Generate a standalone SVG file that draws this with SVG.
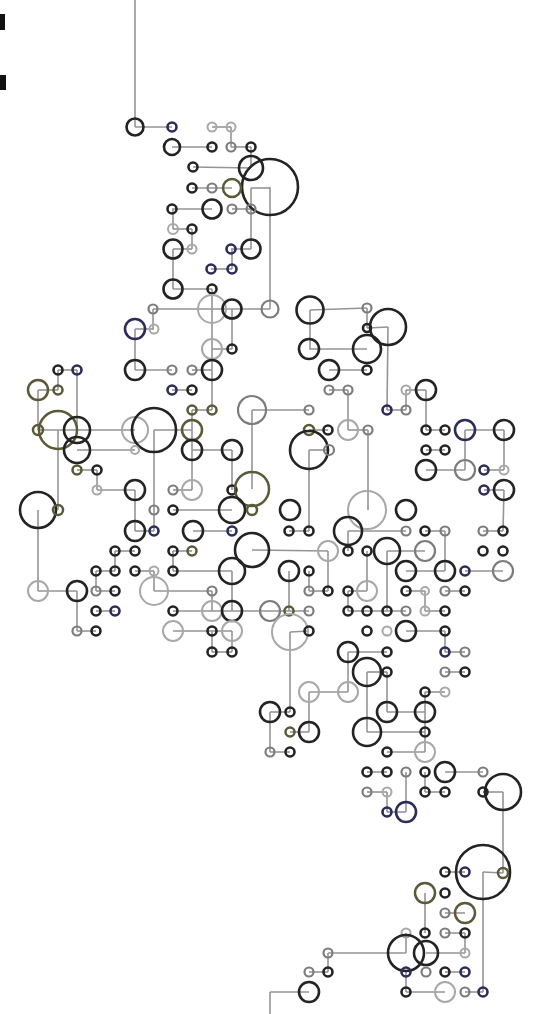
<svg xmlns="http://www.w3.org/2000/svg" width="539" height="1014" viewBox="0 0 539 1014">
<style>
circle{fill:none}
.d{stroke:#232323;stroke-width:2.6}
.n{stroke:#2c2c58;stroke-width:2.6}
.o{stroke:#5a5a38;stroke-width:2.5}
.g{stroke:#7c7c7c;stroke-width:2.2}
.l{stroke:#a8a8a8;stroke-width:2}
.c line{stroke:#959595;stroke-width:1.6}
</style>
<rect width="539" height="1014" fill="#ffffff"/>
<g id="marks" fill="#111">
<rect x="0" y="14" width="5" height="16"/>
<rect x="0" y="75" width="6" height="15"/>
</g>
<g id="connectors" class="c">
<line x1="135" y1="0" x2="135" y2="127"/>
<line x1="135" y1="127" x2="172" y2="127"/>
<line x1="212" y1="127" x2="231" y2="127"/>
<line x1="231" y1="127" x2="231" y2="147"/>
<line x1="172" y1="147" x2="212" y2="147"/>
<line x1="231" y1="147" x2="251" y2="147"/>
<line x1="251" y1="147" x2="251" y2="168"/>
<line x1="193" y1="167" x2="251" y2="168"/>
<line x1="192" y1="188" x2="232" y2="188"/>
<line x1="251" y1="188" x2="270" y2="188"/>
<line x1="251" y1="188" x2="251" y2="209"/>
<line x1="270" y1="187" x2="270" y2="309"/>
<line x1="172" y1="209" x2="212" y2="209"/>
<line x1="232" y1="209" x2="251" y2="209"/>
<line x1="173" y1="209" x2="173" y2="229"/>
<line x1="173" y1="229" x2="192" y2="229"/>
<line x1="192" y1="229" x2="192" y2="249"/>
<line x1="173" y1="249" x2="192" y2="249"/>
<line x1="231" y1="249" x2="251" y2="249"/>
<line x1="251" y1="209" x2="251" y2="249"/>
<line x1="173" y1="249" x2="173" y2="289"/>
<line x1="211" y1="269" x2="232" y2="269"/>
<line x1="232" y1="249" x2="232" y2="269"/>
<line x1="173" y1="289" x2="212" y2="289"/>
<line x1="212" y1="289" x2="212" y2="309"/>
<line x1="153" y1="309" x2="270" y2="309"/>
<line x1="153" y1="309" x2="153" y2="329"/>
<line x1="135" y1="329" x2="154" y2="329"/>
<line x1="212" y1="309" x2="212" y2="410"/>
<line x1="232" y1="309" x2="232" y2="349"/>
<line x1="135" y1="329" x2="135" y2="370"/>
<line x1="212" y1="349" x2="232" y2="349"/>
<line x1="135" y1="370" x2="172" y2="370"/>
<line x1="192" y1="370" x2="212" y2="370"/>
<line x1="58" y1="370" x2="77" y2="370"/>
<line x1="58" y1="370" x2="58" y2="390"/>
<line x1="77" y1="370" x2="77" y2="430"/>
<line x1="38" y1="390" x2="58" y2="390"/>
<line x1="38" y1="390" x2="38" y2="430"/>
<line x1="172" y1="390" x2="192" y2="390"/>
<line x1="192" y1="410" x2="212" y2="410"/>
<line x1="192" y1="410" x2="192" y2="490"/>
<line x1="38" y1="430" x2="135" y2="430"/>
<line x1="154" y1="430" x2="192" y2="430"/>
<line x1="154" y1="430" x2="154" y2="531"/>
<line x1="58" y1="430" x2="58" y2="510"/>
<line x1="77" y1="450" x2="135" y2="450"/>
<line x1="192" y1="450" x2="232" y2="450"/>
<line x1="232" y1="450" x2="232" y2="490"/>
<line x1="77" y1="470" x2="97" y2="470"/>
<line x1="97" y1="470" x2="97" y2="490"/>
<line x1="97" y1="490" x2="135" y2="490"/>
<line x1="135" y1="490" x2="135" y2="531"/>
<line x1="173" y1="490" x2="192" y2="490"/>
<line x1="252" y1="410" x2="252" y2="489"/>
<line x1="252" y1="410" x2="309" y2="410"/>
<line x1="310" y1="310" x2="367" y2="308"/>
<line x1="367" y1="308" x2="367" y2="328"/>
<line x1="367" y1="328" x2="388" y2="327"/>
<line x1="310" y1="310" x2="310" y2="349"/>
<line x1="309" y1="349" x2="367" y2="349"/>
<line x1="388" y1="327" x2="387" y2="410"/>
<line x1="329" y1="370" x2="367" y2="370"/>
<line x1="329" y1="390" x2="348" y2="390"/>
<line x1="348" y1="390" x2="348" y2="430"/>
<line x1="387" y1="410" x2="406" y2="410"/>
<line x1="406" y1="390" x2="406" y2="410"/>
<line x1="406" y1="390" x2="426" y2="390"/>
<line x1="426" y1="390" x2="426" y2="430"/>
<line x1="309" y1="430" x2="328" y2="430"/>
<line x1="348" y1="430" x2="368" y2="430"/>
<line x1="368" y1="430" x2="368" y2="510"/>
<line x1="309" y1="450" x2="329" y2="450"/>
<line x1="309" y1="450" x2="309" y2="531"/>
<line x1="426" y1="430" x2="445" y2="430"/>
<line x1="465" y1="430" x2="504" y2="430"/>
<line x1="465" y1="430" x2="465" y2="470"/>
<line x1="504" y1="430" x2="504" y2="470"/>
<line x1="426" y1="450" x2="445" y2="450"/>
<line x1="426" y1="470" x2="465" y2="470"/>
<line x1="484" y1="470" x2="504" y2="470"/>
<line x1="484" y1="490" x2="504" y2="490"/>
<line x1="504" y1="490" x2="503" y2="531"/>
<line x1="38" y1="510" x2="38" y2="591"/>
<line x1="38" y1="591" x2="77" y2="591"/>
<line x1="77" y1="591" x2="77" y2="631"/>
<line x1="77" y1="631" x2="96" y2="631"/>
<line x1="135" y1="531" x2="154" y2="531"/>
<line x1="193" y1="531" x2="232" y2="531"/>
<line x1="173" y1="510" x2="232" y2="510"/>
<line x1="115" y1="551" x2="135" y2="551"/>
<line x1="115" y1="551" x2="115" y2="571"/>
<line x1="173" y1="551" x2="192" y2="551"/>
<line x1="173" y1="551" x2="173" y2="571"/>
<line x1="96" y1="571" x2="115" y2="571"/>
<line x1="135" y1="571" x2="154" y2="571"/>
<line x1="154" y1="571" x2="154" y2="591"/>
<line x1="96" y1="571" x2="96" y2="591"/>
<line x1="96" y1="591" x2="115" y2="591"/>
<line x1="173" y1="571" x2="232" y2="571"/>
<line x1="154" y1="591" x2="212" y2="591"/>
<line x1="212" y1="591" x2="212" y2="611"/>
<line x1="232" y1="571" x2="232" y2="611"/>
<line x1="96" y1="611" x2="115" y2="611"/>
<line x1="173" y1="611" x2="309" y2="611"/>
<line x1="173" y1="631" x2="232" y2="631"/>
<line x1="212" y1="631" x2="212" y2="652"/>
<line x1="232" y1="631" x2="232" y2="652"/>
<line x1="212" y1="652" x2="232" y2="652"/>
<line x1="252" y1="550" x2="328" y2="551"/>
<line x1="289" y1="531" x2="309" y2="531"/>
<line x1="348" y1="531" x2="406" y2="531"/>
<line x1="425" y1="531" x2="445" y2="531"/>
<line x1="483" y1="531" x2="503" y2="531"/>
<line x1="445" y1="531" x2="445" y2="571"/>
<line x1="348" y1="531" x2="348" y2="551"/>
<line x1="328" y1="551" x2="328" y2="591"/>
<line x1="367" y1="551" x2="367" y2="591"/>
<line x1="387" y1="551" x2="425" y2="551"/>
<line x1="387" y1="551" x2="387" y2="611"/>
<line x1="289" y1="571" x2="289" y2="611"/>
<line x1="309" y1="571" x2="309" y2="591"/>
<line x1="309" y1="591" x2="328" y2="591"/>
<line x1="348" y1="591" x2="367" y2="591"/>
<line x1="348" y1="591" x2="348" y2="611"/>
<line x1="406" y1="571" x2="445" y2="571"/>
<line x1="465" y1="571" x2="503" y2="571"/>
<line x1="406" y1="591" x2="425" y2="591"/>
<line x1="445" y1="591" x2="465" y2="591"/>
<line x1="425" y1="591" x2="425" y2="611"/>
<line x1="348" y1="611" x2="406" y2="611"/>
<line x1="425" y1="611" x2="445" y2="611"/>
<line x1="290" y1="632" x2="309" y2="631"/>
<line x1="290" y1="632" x2="290" y2="712"/>
<line x1="406" y1="631" x2="445" y2="631"/>
<line x1="445" y1="631" x2="445" y2="652"/>
<line x1="348" y1="652" x2="387" y2="652"/>
<line x1="348" y1="652" x2="348" y2="692"/>
<line x1="445" y1="652" x2="465" y2="652"/>
<line x1="367" y1="672" x2="387" y2="672"/>
<line x1="445" y1="672" x2="465" y2="672"/>
<line x1="309" y1="692" x2="348" y2="692"/>
<line x1="309" y1="692" x2="309" y2="732"/>
<line x1="367" y1="672" x2="367" y2="732"/>
<line x1="387" y1="672" x2="387" y2="712"/>
<line x1="425" y1="692" x2="445" y2="692"/>
<line x1="425" y1="692" x2="425" y2="752"/>
<line x1="270" y1="712" x2="290" y2="712"/>
<line x1="387" y1="712" x2="425" y2="712"/>
<line x1="290" y1="732" x2="309" y2="732"/>
<line x1="367" y1="732" x2="425" y2="732"/>
<line x1="270" y1="712" x2="270" y2="752"/>
<line x1="270" y1="752" x2="290" y2="752"/>
<line x1="387" y1="752" x2="425" y2="752"/>
<line x1="367" y1="772" x2="387" y2="772"/>
<line x1="406" y1="772" x2="406" y2="812"/>
<line x1="425" y1="772" x2="425" y2="792"/>
<line x1="445" y1="772" x2="483" y2="772"/>
<line x1="367" y1="792" x2="387" y2="792"/>
<line x1="387" y1="792" x2="387" y2="812"/>
<line x1="425" y1="792" x2="445" y2="792"/>
<line x1="483" y1="792" x2="503" y2="792"/>
<line x1="503" y1="792" x2="503" y2="873"/>
<line x1="387" y1="812" x2="406" y2="812"/>
<line x1="483" y1="872" x2="503" y2="873"/>
<line x1="483" y1="872" x2="483" y2="992"/>
<line x1="445" y1="872" x2="465" y2="872"/>
<line x1="425" y1="893" x2="425" y2="933"/>
<line x1="445" y1="913" x2="465" y2="913"/>
<line x1="445" y1="933" x2="465" y2="933"/>
<line x1="465" y1="933" x2="465" y2="953"/>
<line x1="328" y1="953" x2="406" y2="953"/>
<line x1="406" y1="933" x2="406" y2="953"/>
<line x1="426" y1="953" x2="465" y2="953"/>
<line x1="328" y1="953" x2="328" y2="972"/>
<line x1="309" y1="972" x2="328" y2="972"/>
<line x1="406" y1="972" x2="406" y2="992"/>
<line x1="445" y1="972" x2="465" y2="972"/>
<line x1="270" y1="992" x2="309" y2="992"/>
<line x1="270" y1="992" x2="270" y2="1014"/>
<line x1="406" y1="992" x2="445" y2="992"/>
<line x1="465" y1="992" x2="483" y2="992"/>
</g>
<g id="nodes">
<g id="n1"><circle class="d" cx="135" cy="127" r="8.5"/></g>
<g id="n2"><circle class="n" cx="172" cy="127" r="4.5"/></g>
<g id="n3"><circle class="l" cx="212" cy="127" r="4.5"/></g>
<g id="n4"><circle class="l" cx="231" cy="127" r="4.5"/></g>
<g id="n5"><circle class="d" cx="172" cy="147" r="8"/></g>
<g id="n6"><circle class="d" cx="212" cy="147" r="4.5"/></g>
<g id="n7"><circle class="g" cx="231" cy="147" r="4.5"/></g>
<g id="n8"><circle class="d" cx="251" cy="147" r="4.5"/></g>
<g id="n9"><circle class="d" cx="193" cy="167" r="4.5"/></g>
<g id="n10"><circle class="d" cx="251" cy="168" r="12"/></g>
<g id="n11"><circle class="d" cx="270" cy="187" r="28"/></g>
<g id="n12"><circle class="d" cx="192" cy="188" r="4.5"/></g>
<g id="n13"><circle class="g" cx="212" cy="188" r="4.5"/></g>
<g id="n14"><circle class="o" cx="232" cy="188" r="9"/></g>
<g id="n15"><circle class="d" cx="172" cy="209" r="4.5"/></g>
<g id="n16"><circle class="d" cx="212" cy="209" r="9.5"/></g>
<g id="n17"><circle class="g" cx="232" cy="209" r="4.5"/></g>
<g id="n18"><circle class="g" cx="251" cy="209" r="4.5"/></g>
<g id="n19"><circle class="l" cx="173" cy="229" r="5"/></g>
<g id="n20"><circle class="d" cx="192" cy="229" r="4.5"/></g>
<g id="n21"><circle class="d" cx="173" cy="249" r="9.5"/></g>
<g id="n22"><circle class="l" cx="192" cy="249" r="4.5"/></g>
<g id="n23"><circle class="n" cx="231" cy="249" r="4.5"/></g>
<g id="n24"><circle class="d" cx="251" cy="249" r="9.5"/></g>
<g id="n25"><circle class="n" cx="211" cy="269" r="4.5"/></g>
<g id="n26"><circle class="n" cx="232" cy="269" r="4.5"/></g>
<g id="n27"><circle class="d" cx="173" cy="289" r="9.5"/></g>
<g id="n28"><circle class="d" cx="212" cy="289" r="4.5"/></g>
<g id="n29"><circle class="g" cx="153" cy="309" r="4.5"/></g>
<g id="n30"><circle class="l" cx="212" cy="309" r="14"/></g>
<g id="n31"><circle class="d" cx="232" cy="309" r="9.5"/></g>
<g id="n32"><circle class="g" cx="270" cy="309" r="8.5"/></g>
<g id="n33"><circle class="d" cx="310" cy="310" r="13.5"/></g>
<g id="n34"><circle class="g" cx="367" cy="308" r="4.5"/></g>
<g id="n35"><circle class="n" cx="135" cy="329" r="10"/></g>
<g id="n36"><circle class="l" cx="154" cy="329" r="4.5"/></g>
<g id="n37"><circle class="d" cx="367" cy="328" r="4"/></g>
<g id="n38"><circle class="d" cx="388" cy="327" r="18"/></g>
<g id="n39"><circle class="l" cx="212" cy="349" r="10"/></g>
<g id="n40"><circle class="d" cx="232" cy="349" r="4.5"/></g>
<g id="n41"><circle class="d" cx="309" cy="349" r="10"/></g>
<g id="n42"><circle class="d" cx="367" cy="349" r="14"/></g>
<g id="n43"><circle class="d" cx="58" cy="370" r="4.5"/></g>
<g id="n44"><circle class="n" cx="77" cy="370" r="4.5"/></g>
<g id="n45"><circle class="d" cx="135" cy="370" r="10"/></g>
<g id="n46"><circle class="g" cx="172" cy="370" r="4.5"/></g>
<g id="n47"><circle class="g" cx="192" cy="370" r="4.5"/></g>
<g id="n48"><circle class="d" cx="212" cy="370" r="10"/></g>
<g id="n49"><circle class="d" cx="329" cy="370" r="10"/></g>
<g id="n50"><circle class="d" cx="367" cy="370" r="4.5"/></g>
<g id="n51"><circle class="o" cx="38" cy="390" r="10"/></g>
<g id="n52"><circle class="o" cx="58" cy="390" r="4.5"/></g>
<g id="n53"><circle class="n" cx="172" cy="390" r="4.5"/></g>
<g id="n54"><circle class="d" cx="192" cy="390" r="4.5"/></g>
<g id="n55"><circle class="g" cx="329" cy="390" r="4.5"/></g>
<g id="n56"><circle class="g" cx="348" cy="390" r="4.5"/></g>
<g id="n57"><circle class="l" cx="406" cy="390" r="4.5"/></g>
<g id="n58"><circle class="d" cx="426" cy="390" r="10"/></g>
<g id="n59"><circle class="o" cx="192" cy="410" r="4.5"/></g>
<g id="n60"><circle class="o" cx="212" cy="410" r="4.5"/></g>
<g id="n61"><circle class="g" cx="252" cy="410" r="14"/></g>
<g id="n62"><circle class="g" cx="309" cy="410" r="4.5"/></g>
<g id="n63"><circle class="n" cx="387" cy="410" r="4.5"/></g>
<g id="n64"><circle class="g" cx="406" cy="410" r="4.5"/></g>
<g id="n65"><circle class="o" cx="38" cy="430" r="5"/></g>
<g id="n66"><circle class="o" cx="58" cy="430" r="19"/></g>
<g id="n67"><circle class="d" cx="77" cy="430" r="13"/></g>
<g id="n68"><circle class="l" cx="135" cy="430" r="13"/></g>
<g id="n69"><circle class="d" cx="154" cy="430" r="22"/></g>
<g id="n70"><circle class="o" cx="192" cy="430" r="10"/></g>
<g id="n71"><circle class="o" cx="309" cy="430" r="5"/></g>
<g id="n72"><circle class="d" cx="328" cy="430" r="4.5"/></g>
<g id="n73"><circle class="l" cx="348" cy="430" r="10"/></g>
<g id="n74"><circle class="g" cx="368" cy="430" r="4.5"/></g>
<g id="n75"><circle class="d" cx="426" cy="430" r="4.5"/></g>
<g id="n76"><circle class="d" cx="445" cy="430" r="4.5"/></g>
<g id="n77"><circle class="n" cx="465" cy="430" r="10"/></g>
<g id="n78"><circle class="d" cx="504" cy="430" r="10"/></g>
<g id="n79"><circle class="d" cx="77" cy="450" r="13"/></g>
<g id="n80"><circle class="l" cx="135" cy="450" r="4"/></g>
<g id="n81"><circle class="d" cx="192" cy="450" r="10"/></g>
<g id="n82"><circle class="d" cx="232" cy="450" r="10"/></g>
<g id="n83"><circle class="d" cx="309" cy="450" r="19"/></g>
<g id="n84"><circle class="g" cx="329" cy="450" r="5"/></g>
<g id="n85"><circle class="d" cx="426" cy="450" r="4.5"/></g>
<g id="n86"><circle class="d" cx="445" cy="450" r="4.5"/></g>
<g id="n87"><circle class="o" cx="77" cy="470" r="4.5"/></g>
<g id="n88"><circle class="d" cx="97" cy="470" r="4.5"/></g>
<g id="n89"><circle class="d" cx="426" cy="470" r="10"/></g>
<g id="n90"><circle class="g" cx="465" cy="470" r="10"/></g>
<g id="n91"><circle class="n" cx="484" cy="470" r="4.5"/></g>
<g id="n92"><circle class="l" cx="504" cy="470" r="4.5"/></g>
<g id="n93"><circle class="l" cx="97" cy="490" r="4.5"/></g>
<g id="n94"><circle class="d" cx="135" cy="490" r="10"/></g>
<g id="n95"><circle class="g" cx="173" cy="490" r="4.5"/></g>
<g id="n96"><circle class="l" cx="192" cy="490" r="10"/></g>
<g id="n97"><circle class="d" cx="232" cy="490" r="4.5"/></g>
<g id="n98"><circle class="o" cx="252" cy="489" r="17"/></g>
<g id="n99"><circle class="n" cx="484" cy="490" r="4.5"/></g>
<g id="n100"><circle class="d" cx="504" cy="490" r="10"/></g>
<g id="n101"><circle class="d" cx="38" cy="510" r="18"/></g>
<g id="n102"><circle class="o" cx="58" cy="510" r="5"/></g>
<g id="n103"><circle class="g" cx="154" cy="510" r="4.5"/></g>
<g id="n104"><circle class="d" cx="173" cy="510" r="4.5"/></g>
<g id="n105"><circle class="d" cx="232" cy="510" r="13"/></g>
<g id="n106"><circle class="o" cx="252" cy="510" r="5"/></g>
<g id="n107"><circle class="d" cx="290" cy="510" r="10"/></g>
<g id="n108"><circle class="l" cx="367" cy="510" r="19"/></g>
<g id="n109"><circle class="d" cx="406" cy="510" r="10"/></g>
<g id="n110"><circle class="d" cx="135" cy="531" r="10"/></g>
<g id="n111"><circle class="n" cx="154" cy="531" r="4.5"/></g>
<g id="n112"><circle class="d" cx="193" cy="531" r="10"/></g>
<g id="n113"><circle class="n" cx="232" cy="531" r="4.5"/></g>
<g id="n114"><circle class="d" cx="289" cy="531" r="4.5"/></g>
<g id="n115"><circle class="d" cx="309" cy="531" r="4.5"/></g>
<g id="n116"><circle class="d" cx="348" cy="531" r="14"/></g>
<g id="n117"><circle class="g" cx="406" cy="531" r="4.5"/></g>
<g id="n118"><circle class="d" cx="425" cy="531" r="4.5"/></g>
<g id="n119"><circle class="g" cx="445" cy="531" r="4.5"/></g>
<g id="n120"><circle class="g" cx="483" cy="531" r="4.5"/></g>
<g id="n121"><circle class="d" cx="503" cy="531" r="4.5"/></g>
<g id="n122"><circle class="d" cx="115" cy="551" r="4.5"/></g>
<g id="n123"><circle class="d" cx="135" cy="551" r="4.5"/></g>
<g id="n124"><circle class="d" cx="173" cy="551" r="4.5"/></g>
<g id="n125"><circle class="o" cx="192" cy="551" r="4.5"/></g>
<g id="n126"><circle class="d" cx="252" cy="550" r="17"/></g>
<g id="n127"><circle class="l" cx="328" cy="551" r="10"/></g>
<g id="n128"><circle class="d" cx="348" cy="551" r="4.5"/></g>
<g id="n129"><circle class="d" cx="367" cy="551" r="4.5"/></g>
<g id="n130"><circle class="d" cx="387" cy="551" r="13"/></g>
<g id="n131"><circle class="g" cx="425" cy="551" r="10"/></g>
<g id="n132"><circle class="d" cx="483" cy="551" r="4.5"/></g>
<g id="n133"><circle class="d" cx="503" cy="551" r="4.5"/></g>
<g id="n134"><circle class="d" cx="96" cy="571" r="4.5"/></g>
<g id="n135"><circle class="d" cx="115" cy="571" r="4.5"/></g>
<g id="n136"><circle class="d" cx="135" cy="571" r="4.5"/></g>
<g id="n137"><circle class="l" cx="154" cy="571" r="4.5"/></g>
<g id="n138"><circle class="d" cx="173" cy="571" r="4.5"/></g>
<g id="n139"><circle class="d" cx="232" cy="571" r="13"/></g>
<g id="n140"><circle class="d" cx="289" cy="571" r="10"/></g>
<g id="n141"><circle class="d" cx="309" cy="571" r="4.5"/></g>
<g id="n142"><circle class="d" cx="406" cy="571" r="10"/></g>
<g id="n143"><circle class="d" cx="445" cy="571" r="10"/></g>
<g id="n144"><circle class="n" cx="465" cy="571" r="4.5"/></g>
<g id="n145"><circle class="g" cx="503" cy="571" r="10"/></g>
<g id="n146"><circle class="l" cx="38" cy="591" r="10"/></g>
<g id="n147"><circle class="d" cx="77" cy="591" r="10"/></g>
<g id="n148"><circle class="g" cx="96" cy="591" r="4.5"/></g>
<g id="n149"><circle class="d" cx="115" cy="591" r="4.5"/></g>
<g id="n150"><circle class="l" cx="154" cy="591" r="14"/></g>
<g id="n151"><circle class="g" cx="212" cy="591" r="4.5"/></g>
<g id="n152"><circle class="g" cx="309" cy="591" r="4.5"/></g>
<g id="n153"><circle class="d" cx="328" cy="591" r="4.5"/></g>
<g id="n154"><circle class="d" cx="348" cy="591" r="4.5"/></g>
<g id="n155"><circle class="l" cx="367" cy="591" r="10"/></g>
<g id="n156"><circle class="d" cx="406" cy="591" r="4.5"/></g>
<g id="n157"><circle class="l" cx="425" cy="591" r="4"/></g>
<g id="n158"><circle class="g" cx="445" cy="591" r="4.5"/></g>
<g id="n159"><circle class="d" cx="465" cy="591" r="4.5"/></g>
<g id="n160"><circle class="d" cx="96" cy="611" r="4.5"/></g>
<g id="n161"><circle class="n" cx="115" cy="611" r="4.5"/></g>
<g id="n162"><circle class="d" cx="173" cy="611" r="4.5"/></g>
<g id="n163"><circle class="l" cx="212" cy="611" r="10"/></g>
<g id="n164"><circle class="d" cx="232" cy="611" r="10"/></g>
<g id="n165"><circle class="g" cx="270" cy="611" r="10"/></g>
<g id="n166"><circle class="o" cx="289" cy="611" r="4.5"/></g>
<g id="n167"><circle class="g" cx="309" cy="611" r="4.5"/></g>
<g id="n168"><circle class="d" cx="348" cy="611" r="4.5"/></g>
<g id="n169"><circle class="d" cx="367" cy="611" r="4.5"/></g>
<g id="n170"><circle class="d" cx="387" cy="611" r="4.5"/></g>
<g id="n171"><circle class="g" cx="406" cy="611" r="4.5"/></g>
<g id="n172"><circle class="l" cx="425" cy="611" r="4.5"/></g>
<g id="n173"><circle class="d" cx="445" cy="611" r="4.5"/></g>
<g id="n174"><circle class="g" cx="77" cy="631" r="4.5"/></g>
<g id="n175"><circle class="d" cx="96" cy="631" r="4.5"/></g>
<g id="n176"><circle class="l" cx="173" cy="631" r="10"/></g>
<g id="n177"><circle class="d" cx="212" cy="631" r="4.5"/></g>
<g id="n178"><circle class="l" cx="232" cy="631" r="10"/></g>
<g id="n179"><circle class="l" cx="290" cy="632" r="18"/></g>
<g id="n180"><circle class="d" cx="309" cy="631" r="4.5"/></g>
<g id="n181"><circle class="d" cx="367" cy="631" r="4.5"/></g>
<g id="n182"><circle class="l" cx="387" cy="631" r="4.5"/></g>
<g id="n183"><circle class="d" cx="406" cy="631" r="10"/></g>
<g id="n184"><circle class="d" cx="445" cy="631" r="4.5"/></g>
<g id="n185"><circle class="d" cx="212" cy="652" r="4.5"/></g>
<g id="n186"><circle class="d" cx="232" cy="652" r="4.5"/></g>
<g id="n187"><circle class="d" cx="348" cy="652" r="10"/></g>
<g id="n188"><circle class="d" cx="387" cy="652" r="4.5"/></g>
<g id="n189"><circle class="n" cx="445" cy="652" r="4.5"/></g>
<g id="n190"><circle class="g" cx="465" cy="652" r="4.5"/></g>
<g id="n191"><circle class="d" cx="367" cy="672" r="14"/></g>
<g id="n192"><circle class="d" cx="387" cy="672" r="4.5"/></g>
<g id="n193"><circle class="g" cx="445" cy="672" r="4.5"/></g>
<g id="n194"><circle class="d" cx="465" cy="672" r="4.5"/></g>
<g id="n195"><circle class="l" cx="309" cy="692" r="10"/></g>
<g id="n196"><circle class="l" cx="348" cy="692" r="10"/></g>
<g id="n197"><circle class="d" cx="425" cy="692" r="4.5"/></g>
<g id="n198"><circle class="l" cx="445" cy="692" r="4.5"/></g>
<g id="n199"><circle class="d" cx="270" cy="712" r="10"/></g>
<g id="n200"><circle class="d" cx="290" cy="712" r="4.5"/></g>
<g id="n201"><circle class="d" cx="387" cy="712" r="10"/></g>
<g id="n202"><circle class="d" cx="425" cy="712" r="10"/></g>
<g id="n203"><circle class="o" cx="290" cy="732" r="4.5"/></g>
<g id="n204"><circle class="d" cx="309" cy="732" r="10"/></g>
<g id="n205"><circle class="d" cx="367" cy="732" r="14"/></g>
<g id="n206"><circle class="d" cx="425" cy="732" r="4.5"/></g>
<g id="n207"><circle class="g" cx="270" cy="752" r="4.5"/></g>
<g id="n208"><circle class="d" cx="290" cy="752" r="4.5"/></g>
<g id="n209"><circle class="d" cx="387" cy="752" r="4.5"/></g>
<g id="n210"><circle class="l" cx="425" cy="752" r="10"/></g>
<g id="n211"><circle class="d" cx="367" cy="772" r="4.5"/></g>
<g id="n212"><circle class="d" cx="387" cy="772" r="4.5"/></g>
<g id="n213"><circle class="g" cx="406" cy="772" r="4.5"/></g>
<g id="n214"><circle class="d" cx="425" cy="772" r="4.5"/></g>
<g id="n215"><circle class="d" cx="445" cy="772" r="10"/></g>
<g id="n216"><circle class="g" cx="483" cy="772" r="4.5"/></g>
<g id="n217"><circle class="g" cx="367" cy="792" r="4.5"/></g>
<g id="n218"><circle class="l" cx="387" cy="792" r="4.5"/></g>
<g id="n219"><circle class="d" cx="425" cy="792" r="4.5"/></g>
<g id="n220"><circle class="d" cx="445" cy="792" r="4.5"/></g>
<g id="n221"><circle class="d" cx="483" cy="792" r="4.5"/></g>
<g id="n222"><circle class="d" cx="503" cy="792" r="18"/></g>
<g id="n223"><circle class="n" cx="387" cy="812" r="4.5"/></g>
<g id="n224"><circle class="n" cx="406" cy="812" r="10"/></g>
<g id="n225"><circle class="d" cx="483" cy="872" r="27"/></g>
<g id="n226"><circle class="o" cx="503" cy="873" r="5"/></g>
<g id="n227"><circle class="d" cx="445" cy="872" r="4.5"/></g>
<g id="n228"><circle class="n" cx="465" cy="872" r="4.5"/></g>
<g id="n229"><circle class="o" cx="425" cy="893" r="10"/></g>
<g id="n230"><circle class="d" cx="445" cy="893" r="4.5"/></g>
<g id="n231"><circle class="g" cx="445" cy="913" r="4.5"/></g>
<g id="n232"><circle class="o" cx="465" cy="913" r="10"/></g>
<g id="n233"><circle class="l" cx="406" cy="933" r="4.5"/></g>
<g id="n234"><circle class="d" cx="425" cy="933" r="4.5"/></g>
<g id="n235"><circle class="g" cx="445" cy="933" r="4.5"/></g>
<g id="n236"><circle class="d" cx="465" cy="933" r="4.5"/></g>
<g id="n237"><circle class="g" cx="328" cy="953" r="4.5"/></g>
<g id="n238"><circle class="d" cx="406" cy="953" r="18"/></g>
<g id="n239"><circle class="d" cx="426" cy="953" r="12"/></g>
<g id="n240"><circle class="l" cx="465" cy="953" r="4.5"/></g>
<g id="n241"><circle class="g" cx="309" cy="972" r="4.5"/></g>
<g id="n242"><circle class="d" cx="328" cy="972" r="4.5"/></g>
<g id="n243"><circle class="n" cx="406" cy="972" r="4.5"/></g>
<g id="n244"><circle class="g" cx="426" cy="972" r="4.5"/></g>
<g id="n245"><circle class="d" cx="445" cy="972" r="4.5"/></g>
<g id="n246"><circle class="n" cx="465" cy="972" r="4.5"/></g>
<g id="n247"><circle class="d" cx="309" cy="992" r="10"/></g>
<g id="n248"><circle class="d" cx="406" cy="992" r="4.5"/></g>
<g id="n249"><circle class="l" cx="445" cy="992" r="10"/></g>
<g id="n250"><circle class="g" cx="465" cy="992" r="4.5"/></g>
<g id="n251"><circle class="n" cx="483" cy="992" r="4.5"/></g>
</g>
</svg>
